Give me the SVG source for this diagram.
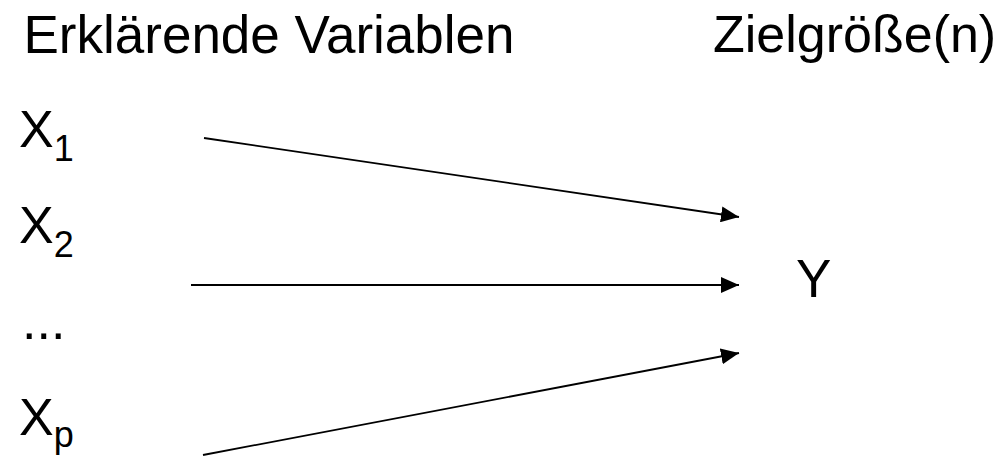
<svg xmlns="http://www.w3.org/2000/svg" width="1003" height="456" viewBox="0 0 1003 456">
<defs>
<style>
text { font-family: "Liberation Sans", Arial, sans-serif; fill: #000; }
.h { font-size: 53px; }
.v { font-size: 52px; }
.s { font-size: 36px; }
.c line { stroke: #000; stroke-width: 1.8; marker-end: url(#ah); }
</style>
<marker id="ah" markerUnits="userSpaceOnUse" markerWidth="18" markerHeight="16" refX="18" refY="8" orient="auto" viewBox="0 0 18 16">
<path d="M0,0 L18,8 L0,16 Z" fill="#000"/>
</marker>
</defs>
<rect width="1003" height="456" fill="#fff"/>
<g id="title-left"><text class="h" x="23.5" y="53">Erklärende Variablen</text></g>
<g id="title-right"><text class="h" x="713" y="52" style="font-size:52px">Zielgröße(n)</text></g>
<g id="x1"><text class="v" x="19" y="147">X<tspan class="s" dy="14">1</tspan></text></g>
<g id="x2"><text class="v" x="19" y="243">X<tspan class="s" dy="14">2</tspan></text></g>
<g id="dots"><text class="v" x="22" y="339">...</text></g>
<g id="xp"><text class="v" x="19" y="435">X<tspan class="s" dy="12">p</tspan></text></g>
<g id="y"><text class="h" x="796" y="297">Y</text></g>
<g class="c" id="connectors">
<line x1="204" y1="138" x2="739" y2="217"/>
<line x1="191" y1="285" x2="739" y2="285"/>
<line x1="203" y1="455" x2="739" y2="353"/>
</g>
</svg>
